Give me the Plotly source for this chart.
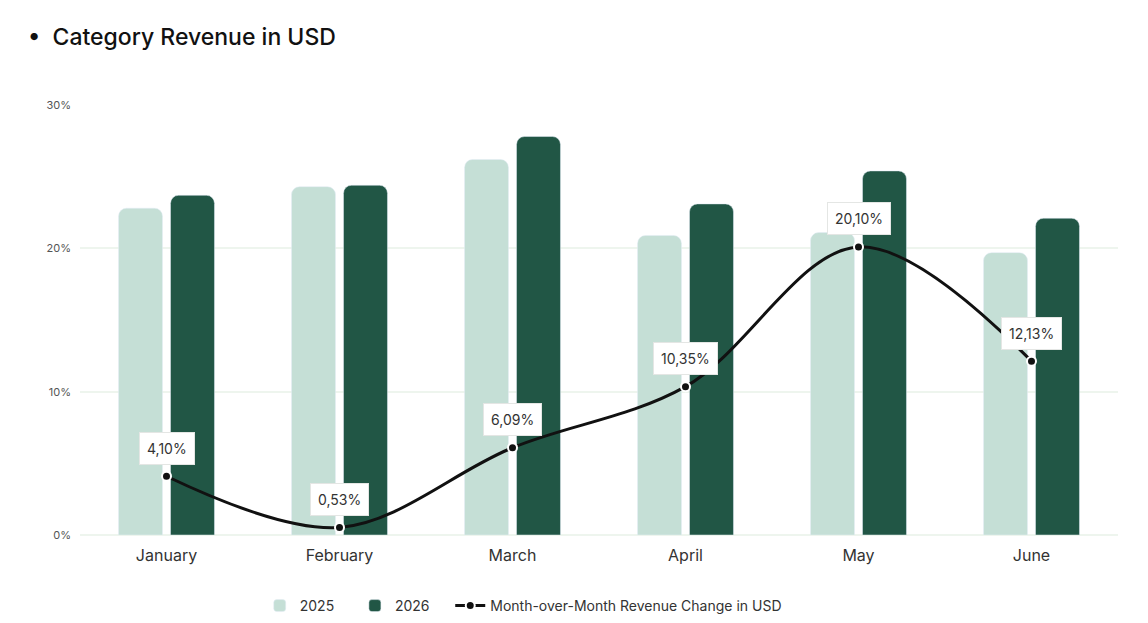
import plotly.graph_objects as go

# Data
months = ["January", "February", "March", "April", "May", "June"]
rev_2025 = [22.8, 24.3, 26.2, 20.9, 21.1, 19.7]
rev_2026 = [23.7, 24.4, 27.8, 23.1, 25.4, 22.1]
mom_change = [4.10, 0.53, 6.09, 10.35, 20.10, 12.13]
y_ticks = [0, 10, 20, 30]
y_tick_text = ["0%", "10%", "20%", "30%"]

pad = "&nbsp;" * 4

fig = go.Figure()

fig.add_trace(go.Bar(
    x=months, y=rev_2025, name="2025" + pad,
    marker=dict(color="#c5dfd6", cornerradius=8),
))
fig.add_trace(go.Bar(
    x=months, y=rev_2026, name="2026" + pad,
    marker=dict(color="#215645", cornerradius=8),
))
fig.add_trace(go.Scatter(
    x=months, y=mom_change, name="Month-over-Month Revenue Change in USD",
    mode="lines+markers",
    line=dict(color="#111111", width=3, shape="spline", smoothing=1.0),
    marker=dict(color="#111111", size=9, line=dict(color="white", width=2)),
))

# value labels above line points
for m, v in zip(months, mom_change):
    fig.add_annotation(
        x=m, y=v, yshift=28, showarrow=False,
        text=f"{v:.2f}%".replace(".", ","),
        font=dict(family="Inter", size=14, color="#333333"),
        bgcolor="white", bordercolor="#e4e6e4", borderwidth=1, borderpad=7,
    )

fig.update_layout(
    width=1148, height=623,
    margin=dict(l=72, r=38, t=97, b=96),
    paper_bgcolor="white", plot_bgcolor="white",
    barmode="group", bargap=0.399, bargroupgap=0.154,
    title=dict(
        text="•  Category Revenue in USD",
        x=20 / 1148, xanchor="left", y=1 - 29 / 623, yanchor="middle",
        font=dict(family="Inter", size=23, color="#111111", weight=500),
    ),
    legend=dict(
        orientation="h", x=0.427, xanchor="center",
        yref="container", y=25 / 623, yanchor="middle",
        font=dict(family="Inter", size=14, color="#333333"),
        itemwidth=30, tracegroupgap=0,
    ),
    showlegend=True,
    font=dict(family="Inter"),
)

fig.update_xaxes(
    showgrid=False, zeroline=False, showline=False, ticks="",
    tickfont=dict(family="Inter", size=16, color="#333333"),
    ticklabelstandoff=9,
)
fig.update_yaxes(
    range=[0, 30], tickvals=y_ticks, ticktext=y_tick_text,
    showgrid=True, gridcolor="#eef5ee", gridwidth=1.5,
    zeroline=True, zerolinecolor="#eef5ee", zerolinewidth=1.5,
    tickfont=dict(family="Inter", size=11, color="#555555"),
    ticklabelstandoff=8,
)

fig.write_html("out.html")
